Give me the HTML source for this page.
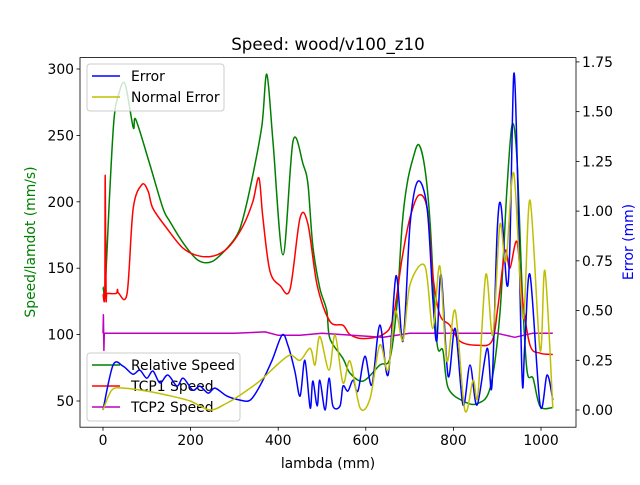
<!DOCTYPE html>
<html><head><meta charset="utf-8"><style>
body{margin:0;background:#fff;}
svg text{font-family:"DejaVu Sans","Liberation Sans",sans-serif;}
</style></head><body>
<svg id="chart" width="640" height="480" xmlns="http://www.w3.org/2000/svg"></svg>
<script>
const relX=[0,5,15,25,35,50,69,75,107,137,153,183,217,249,283,306,320,342,363,374,388,411,434,457,468,479,495,511,518,548,564,594,632,655,671,683,694,708,721,735,747,762,776,788,822,854,884,906,922,934,945,957,968,982,998,1027];
const relY=[136,136,205,262,280,289,256,262,228,195,185,169,156,155,165,175,188,220,258,296,246,160,246,228,213,167,135,118,97,82,71,65,77,82,122,183,213,233,243,225,183,95,88,60,50,48,60,115,208,258,233,133,73,67,46,45];
const tcp1X=[0,4,5,7,10,30,33,36,55,69,89,103,114,146,183,222,260,290,320,342,356,365,381,404,427,450,468,489,518,548,564,594,639,662,683,701,721,740,753,769,792,815,854,888,902,918,929,945,957,975,998,1027];
const tcp1Y=[131,131,220,131,131,131,134,131,131,195,213,208,195,180,165,159,160,167,182,200,218,188,148,137,134,188,183,137,110,107,100,97,100,112,158,188,205,195,145,115,107,95,92,95,122,163,150,170,128,92,86,85];
const tcp2X=[0,1,2,3,5,100,300,370,400,450,500,640,700,900,940,980,1027];
const tcp2Y=[101,115,88,101,101,101,101,102,99.5,99.5,101,98,101,101,98,101,101];
const errX=[0,23,46,68,84,100,114,130,148,169,183,205,221,240,256,283,313,336,358,386,409,422,438,450,461,473,479,489,495,507,516,525,541,548,559,571,582,598,614,632,651,669,685,701,719,740,753,762,772,788,804,822,838,854,877,888,900,909,922,929,938,947,957,963,975,998,1014,1027];
const errY=[0,0.226,0.22,0.18,0.2,0.16,0.196,0.136,0.176,0.12,0.16,0.10,0.12,0.085,0.11,0.07,0.05,0.05,0.12,0.25,0.377,0.327,0.196,0.07,0.25,0.01,0.146,0.02,0.15,0,0.16,0.02,0.02,0.12,0.095,0.15,0.095,0.27,0.126,0.427,0.176,0.674,0.347,0.93,1.15,1.016,0.563,0.347,0.68,0.17,0.41,0.025,0.226,0.025,0.31,0.12,0.9,1.025,0.63,0.83,1.69,1.13,0.15,0.327,0.68,0.025,0.176,0.05];
const nerrX=[0,20,46,100,146,199,244,283,313,358,397,427,450,473,484,495,516,530,548,564,587,610,632,651,667,685,701,735,753,769,785,804,826,845,856,874,890,906,920,938,959,975,998,1009,1027];
const nerrY=[0,0.1,0.11,0.095,0.075,0.045,0,0.035,0.075,0.146,0.226,0.276,0.25,0.31,0.226,0.37,0.2,0.377,0.136,0.246,0.01,0.06,0.327,0.2,0.497,0.35,0.63,0.724,0.41,0.724,0.246,0.5,0,0.15,0.075,0.68,0.377,0.93,0.75,1.19,0.46,1.055,0.3,0.7,0.01];
const leftTicks=[50,100,150,200,250,300];
const rightTicks=[0,0.25,0.5,0.75,1.0,1.25,1.5,1.75];
const xTicks=[0,200,400,600,800,1000];

const L=80,R=576,T=57.6,B=427.2;
const xs=v=>103+v*0.438;
const yl=v=>401-(v-50)*1.328;
const yr=v=>410-v*198.9;
const svg=document.getElementById('chart');
const NS='http://www.w3.org/2000/svg';
function mk(tag,attrs,parent){const e=document.createElementNS(NS,tag);for(const k in attrs)e.setAttribute(k,attrs[k]);(parent||svg).appendChild(e);return e;}
function txt(s,attrs,parent){const e=mk('text',attrs,parent);e.textContent=s;return e;}

const clip=mk('clipPath',{id:'plotclip'});mk('rect',{x:L,y:T,width:R-L,height:B-T},clip);
function smoothPath(P){
  let d='M'+P[0][0].toFixed(1)+','+P[0][1].toFixed(1);
  for(let i=0;i<P.length-1;i++){
    const p0=P[Math.max(0,i-1)],p1=P[i],p2=P[i+1],p3=P[Math.min(P.length-1,i+2)];
    const t=0.16;
    const c1=[p1[0]+(p2[0]-p0[0])*t,p1[1]+(p2[1]-p0[1])*t];
    const c2=[p2[0]-(p3[0]-p1[0])*t,p2[1]-(p3[1]-p1[1])*t];
    d+=' C'+c1[0].toFixed(1)+','+c1[1].toFixed(1)+' '+c2[0].toFixed(1)+','+c2[1].toFixed(1)+' '+p2[0].toFixed(1)+','+p2[1].toFixed(1);
  }
  return d;
}
function line(X,Y,fy,color,name,smooth){
  const P=X.map((x,i)=>[xs(x),fy(Y[i])]);
  const d=smooth?smoothPath(P):'M'+P.map(p=>p[0].toFixed(1)+','+p[1].toFixed(1)).join(' L');
  const p=mk('path',{d:d,fill:'none',stroke:color,'stroke-width':1.5,'stroke-linejoin':'round','clip-path':'url(#plotclip)'});
  
  
}
function legend(x,y,w,items,name){
  const g=mk('g',{});
  
  
  mk('rect',{x:x,y:y,width:w,height:items.length*21+5,rx:3,fill:'#fff','fill-opacity':0.8,stroke:'#ccc'},g);
  items.forEach((it,i)=>{
    const cy=y+12+i*21;
    mk('line',{x1:x+5,x2:x+33,y1:cy,y2:cy,stroke:it[1],'stroke-width':1.5},g);
    const t=txt(it[0],{x:x+44,y:cy+5,'font-size':13.9},g);
    
    
  });
}
line(relX,relY,yl,'#008000','relative-speed-line',true);
line(tcp1X,tcp1Y,yl,'#ff0000','tcp1-speed-line',true);
line(tcp2X,tcp2Y,yl,'#bf00bf','tcp2-speed-line',false);
legend(87,353,153,[['Relative Speed','#008000'],['TCP1 Speed','#ff0000'],['TCP2 Speed','#bf00bf']],'speed-legend');
line(errX,errY,yr,'#0000ff','error-line',true);
line(nerrX,nerrY,yr,'#bfbf00','normal-error-line',true);
legend(87,64,137,[['Error','#0000ff'],['Normal Error','#bfbf00']],'error-legend');

const frame=mk('rect',{x:L,y:T,width:R-L,height:B-T,fill:'none',stroke:'#000','stroke-width':0.8});


xTicks.forEach(v=>{const x=xs(v);mk('line',{x1:x,x2:x,y1:B,y2:B+3.5,stroke:'#000','stroke-width':0.8});
 const t=txt(String(v),{x:x,y:B+18,'font-size':13.9,'text-anchor':'middle'});
 });
leftTicks.forEach(v=>{const y=yl(v);mk('line',{x1:L-3.5,x2:L,y1:y,y2:y,stroke:'#000','stroke-width':0.8});
 const t=txt(String(v),{x:L-6,y:y+5,'font-size':13.9,'text-anchor':'end'});
 });
rightTicks.forEach(v=>{const y=yr(v);mk('line',{x1:R,x2:R+3.5,y1:y,y2:y,stroke:'#000','stroke-width':0.8});
 const t=txt(v.toFixed(2),{x:R+6,y:y+5,'font-size':13.9,'text-anchor':'start'});
 });

const title=txt('Speed: wood/v100_z10',{x:328,y:50,'font-size':16.7,'text-anchor':'middle'});

const xt=txt('lambda (mm)',{x:328,y:468,'font-size':13.9,'text-anchor':'middle'});

const ylt=txt('Speed/lamdot (mm/s)',{transform:'translate(35,242) rotate(-90)','font-size':13.9,'text-anchor':'middle',fill:'#008000'});

const yrt=txt('Error (mm)',{transform:'translate(633,242) rotate(-90)','font-size':13.9,'text-anchor':'middle',fill:'#0000ff'});

</script>
</body></html>
